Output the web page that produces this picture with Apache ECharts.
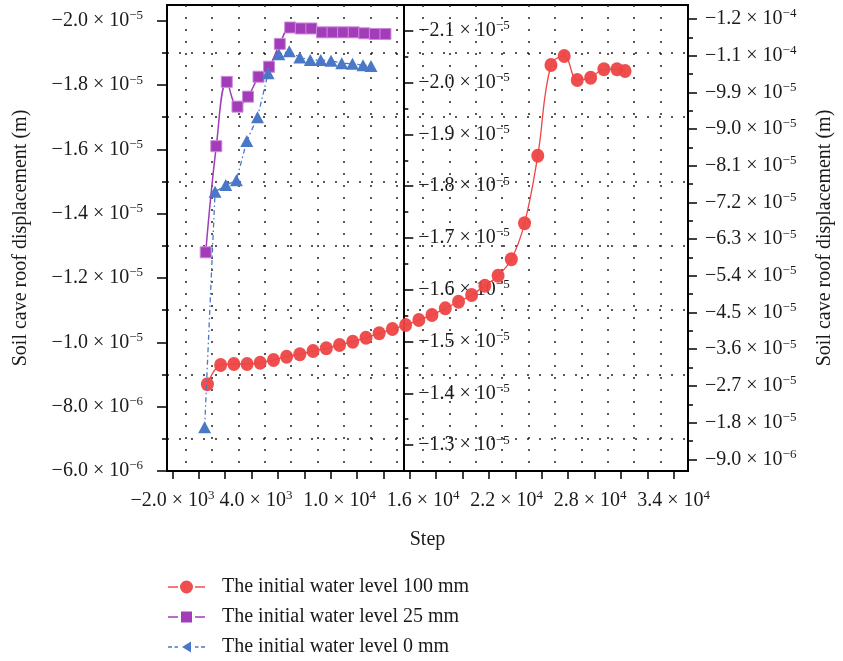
<!DOCTYPE html>
<html>
<head>
<meta charset="utf-8">
<title>Soil cave roof displacement vs step</title>
<script src="https://cdn.jsdelivr.net/npm/echarts@6/dist/echarts.min.js"></script>
<style>
  html, body { margin: 0; padding: 0; background: #fff; }
  #chart { width: 843px; height: 661px; }
</style>
</head>
<body>
<div id="chart"></div>
<script>
// ---- values --------------------------------------------------------------
const NAME_RED = "The initial water level 100 mm";
const NAME_PURPLE = "The initial water level 25 mm";
const NAME_BLUE = "The initial water level 0 mm";

// 100 mm (plotted against the right-hand axis)
const stepRed = [510, 1460, 2410, 3360, 4300, 5260, 6200, 7150, 8100, 9050, 10000,
  10950, 11900, 12850, 13800, 14750, 15700, 16640, 17600, 18550, 19490, 20440,
  21390, 22340, 23290, 24240, 25190, 26140, 27080, 28040, 28990, 29930, 30510];
const dispRed = [-2.739e-5, -3.213e-5, -3.237e-5, -3.237e-5, -3.269e-5, -3.335e-5,
  -3.416e-5, -3.475e-5, -3.556e-5, -3.622e-5, -3.703e-5, -3.784e-5, -3.882e-5,
  -3.990e-5, -4.096e-5, -4.194e-5, -4.316e-5, -4.439e-5, -4.603e-5, -4.765e-5,
  -4.930e-5, -5.158e-5, -5.403e-5, -5.805e-5, -6.688e-5, -8.347e-5, -1.0572e-4,
  -1.0792e-4, -1.0204e-4, -1.0260e-4, -1.0466e-4, -1.0466e-4, -1.0424e-4];

// 25 mm (left axis)
const stepPurple = [390, 1150, 1900, 2670, 3430, 4180, 4940, 5710, 6460, 7220,
  7980, 8740, 9500, 10260, 11020, 11780, 12540, 13300];
const dispPurple = [-1.280e-5, -1.610e-5, -1.810e-5, -1.733e-5, -1.764e-5, -1.826e-5,
  -1.857e-5, -1.928e-5, -1.979e-5, -1.976e-5, -1.976e-5, -1.964e-5, -1.964e-5,
  -1.964e-5, -1.964e-5, -1.961e-5, -1.959e-5, -1.959e-5];

// 0 mm (left axis)
const stepBlue = [310, 1060, 1830, 2590, 3340, 4110, 4870, 5640, 6390, 7150, 7900,
  8650, 9390, 10160, 10930, 11690, 12260];
const dispBlue = [-7.36e-6, -1.468e-5, -1.489e-5, -1.504e-5, -1.626e-5, -1.700e-5,
  -1.837e-5, -1.896e-5, -1.905e-5, -1.886e-5, -1.878e-5, -1.878e-5, -1.876e-5,
  -1.868e-5, -1.866e-5, -1.862e-5, -1.859e-5];

// ---- axis ticks / labels ---------------------------------------------------
const stepLabels = [-2000, 4000, 10000, 16000, 22000, 28000, 34000];
const stepTicks = [-2000, -105, 1789, 3684, 5579, 7474, 9368, 11263, 13158, 15053,
  16947, 18842, 20737, 22632, 24526, 26421, 28316, 30211, 32105, 34000];
const stepGrid = [-1053, 842, 2737, 4632, 6526, 8421, 10316, 12211, 14105, 16000,
  17895, 19789, 21684, 23579, 25474, 27368, 29263, 31158, 33053];

const leftMajor = [-2.0e-5, -1.8e-5, -1.6e-5, -1.4e-5, -1.2e-5, -1.0e-5, -8.0e-6, -6.0e-6];
const leftMinor = [-1.9e-5, -1.7e-5, -1.5e-5, -1.3e-5, -1.1e-5, -9.0e-6, -7.0e-6];
const midMajor = [-2.1e-5, -2.0e-5, -1.9e-5, -1.8e-5, -1.7e-5, -1.6e-5, -1.5e-5, -1.4e-5, -1.3e-5];
const midMinor = [-2.05e-5, -1.95e-5, -1.85e-5, -1.75e-5, -1.65e-5, -1.55e-5, -1.45e-5, -1.35e-5];
const rightMajor = [-1.17e-4, -1.08e-4, -9.9e-5, -9.0e-5, -8.1e-5, -7.2e-5, -6.3e-5,
  -5.4e-5, -4.5e-5, -3.6e-5, -2.7e-5, -1.8e-5, -9.0e-6];
const rightMinor = [-1.125e-4, -1.035e-4, -9.45e-5, -8.55e-5, -7.65e-5, -6.75e-5,
  -5.85e-5, -4.95e-5, -4.05e-5, -3.15e-5, -2.25e-5, -1.35e-5];

// axis ranges (inverse y axes: most negative value at the top)
const X_RANGE = [-2392, 35032];
const LEFT_RANGE = [-2.049e-5, -6.0e-6];
const MID_RANGE = [-2.15e-5, -1.25e-5];
const RIGHT_RANGE = [-1.2043e-4, -6.13e-6];

// ---- styling ---------------------------------------------------------------
const SERIF = '"Liberation Serif", "DejaVu Serif", serif';
const INK = "#1a1a1a";
const RED = "#ee4545";
const PURPLE = "#a23cb8";
const BLUE = "#4a78c6";

const rich = {
  b: { fontSize: 20, fontFamily: SERIF, color: INK },
  s: { fontSize: 13, fontFamily: SERIF, color: INK, padding: [0, 0, 10, 0] },
};

/** -2.0e-5 -> "−2.0 × 10^−5" as rich text. */
function sci(v) {
  const [m, e] = v.toExponential(1).split("e");
  const mant = m.replace("-", "\u2212");
  const exp = String(parseInt(e, 10)).replace("-", "\u2212");
  return `{b|${mant} \u00d7 10}{s|${exp}}`;
}

const pairs = (xs, ys) => xs.map((x, i) => [x, ys[i]]);

const dotted = { color: "#222", width: 1.5, type: [2, 10] };
const axisInk = { color: "#000", width: 2 };
const tickInk = { color: "#000", width: 1.5 };
const nameStyle = { fontSize: 20, fontFamily: SERIF, color: INK };

// Legend icons: line - marker - line, drawn in a 37 x 14 box.
const ICON_RED = "path://M0 6.2H10V7.8H0Z M27 6.2H37V7.8H27Z M12 7A6.5 6.5 0 1 0 25 7A6.5 6.5 0 1 0 12 7Z";
const ICON_PURPLE = "path://M0 6.2H10V7.8H0Z M27 6.2H37V7.8H27Z M13 1.5H24V12.5H13Z";
const ICON_BLUE = "path://M0 6.2H4V7.8H0Z M6.5 6.2H10V7.8H6.5Z M27 6.2H30.5V7.8H27Z M33 6.2H37V7.8H33Z M14 7L23 1.5V12.5Z";

function yAxisPair({ range, major, minor, position, offset, inside, margin, majorLen, name, nameGap, grid }) {
  const base = {
    type: "value", inverse: true, min: range[0], max: range[1],
    position, offset: offset || 0,
  };
  return [
    {
      ...base,
      axisLine: { show: true, onZero: false, lineStyle: axisInk },
      axisTick: { show: true, inside: !!inside, length: majorLen, lineStyle: tickInk, customValues: major },
      axisLabel: { show: true, inside: !!inside, margin, customValues: major, formatter: sci, rich },
      splitLine: { show: false },
      name: name || "", nameLocation: "middle", nameRotate: 90, nameGap: nameGap || 0,
      nameTextStyle: nameStyle,
    },
    {
      ...base,
      axisLine: { show: false, onZero: false },
      axisTick: { show: true, inside: !!inside, length: 5, lineStyle: tickInk, customValues: minor },
      axisLabel: { show: false },
      splitLine: { show: !!grid, lineStyle: dotted },
    },
  ];
}

const chart = echarts.init(document.getElementById("chart"), null, { renderer: "canvas" });

chart.setOption({
  animation: false,
  backgroundColor: "#fff",
  grid: { left: 167, right: 150, top: 5, bottom: 190, show: true, borderColor: "#000", borderWidth: 2 },
  xAxis: [
    {
      type: "value", min: X_RANGE[0], max: X_RANGE[1], position: "bottom",
      axisLine: { show: true, onZero: false, lineStyle: axisInk },
      axisTick: { show: true, length: 8, lineStyle: tickInk, customValues: stepTicks },
      axisLabel: { margin: 18, customValues: stepLabels, formatter: sci, rich },
      splitLine: { show: false },
      name: "Step", nameLocation: "middle", nameGap: 59, nameTextStyle: nameStyle,
    },
    {
      type: "value", min: X_RANGE[0], max: X_RANGE[1], position: "bottom",
      axisLine: { show: false, onZero: false },
      axisTick: { show: false, customValues: stepGrid },
      axisLabel: { show: false },
      splitLine: { show: true, lineStyle: dotted },
    },
  ],
  yAxis: [
    ...yAxisPair({ range: LEFT_RANGE, major: leftMajor, minor: leftMinor, position: "left",
      margin: 24, majorLen: 10, name: "Soil cave roof displacement (m)", nameGap: 136, grid: true }),
    ...yAxisPair({ range: MID_RANGE, major: midMajor, minor: midMinor, position: "left",
      offset: -236.3, inside: true, margin: 15, majorLen: 10 }),
    ...yAxisPair({ range: RIGHT_RANGE, major: rightMajor, minor: rightMinor, position: "right",
      margin: 17, majorLen: 9, name: "Soil cave roof displacement (m)", nameGap: 127 }),
  ],
  legend: {
    orient: "vertical", left: 168, top: 577, padding: 0,
    itemWidth: 37, itemHeight: 14, itemGap: 10,
    itemStyle: { borderWidth: 0 },
    textStyle: { fontSize: 20, lineHeight: 20, fontFamily: SERIF, color: INK, padding: [0, 0, 0, 12] },
    data: [
      { name: NAME_RED, icon: ICON_RED },
      { name: NAME_PURPLE, icon: ICON_PURPLE },
      { name: NAME_BLUE, icon: ICON_BLUE },
    ],
  },
  series: [
    {
      name: NAME_RED, type: "line", xAxisIndex: 0, yAxisIndex: 4,
      data: pairs(stepRed, dispRed), smooth: 0.4,
      symbol: "circle", symbolSize: [13, 14],
      lineStyle: { color: RED, width: 1.3 },
      itemStyle: { color: RED, opacity: 0.95 },
      z: 3,
    },
    {
      name: NAME_PURPLE, type: "line", xAxisIndex: 0, yAxisIndex: 0,
      data: pairs(stepPurple, dispPurple), smooth: 0.4,
      symbol: "rect", symbolSize: 11,
      lineStyle: { color: PURPLE, width: 1.5 },
      itemStyle: { color: PURPLE, borderColor: "#c98bd8", borderWidth: 1 },
      z: 4,
    },
    {
      name: NAME_BLUE, type: "line", xAxisIndex: 0, yAxisIndex: 0,
      data: pairs(stepBlue, dispBlue),
      symbol: "triangle", symbolSize: [13, 12],
      lineStyle: { color: BLUE, width: 1.3, type: [5, 3, 1.5, 3] },
      itemStyle: { color: BLUE },
      z: 4,
    },
  ],
});

window.addEventListener("resize", () => chart.resize());
</script>
</body>
</html>
